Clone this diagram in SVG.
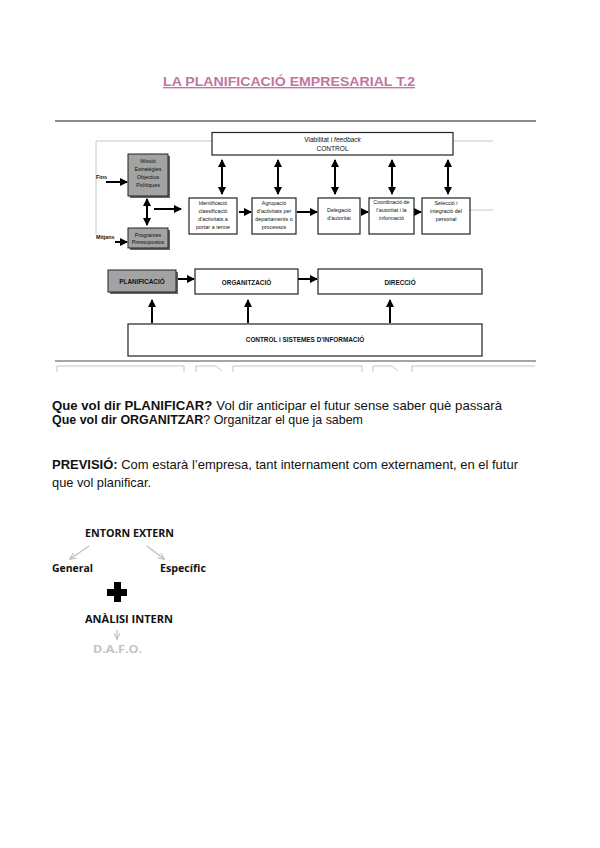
<svg xmlns="http://www.w3.org/2000/svg" width="600" height="848" viewBox="0 0 600 848">
<defs>
<marker id="ah" markerUnits="userSpaceOnUse" markerWidth="8" markerHeight="8" viewBox="0 0 8 8" refX="7" refY="4" orient="auto-start-reverse">
<path d="M0,0 L8,4 L0,8 Z" fill="#000"/>
</marker>
<marker id="ahg" markerUnits="userSpaceOnUse" markerWidth="7" markerHeight="7" viewBox="0 0 8 8" refX="7" refY="4" orient="auto">
<path d="M0,0.5 L7.5,4 L0,7.5" fill="none" stroke="#bdbdbd" stroke-width="1.2"/>
</marker>
</defs>
<style>
.box{fill:#fff;stroke:#222;stroke-width:1.2}
.gbox{fill:#a3a3a3;stroke:#222;stroke-width:1}
.shd{fill:#666}
.sm{font-family:"Liberation Sans",Arial,sans-serif;font-size:5.4px;fill:#111;text-anchor:middle}
.md{font-family:"Liberation Sans",Arial,sans-serif;font-size:6.6px;fill:#111;text-anchor:middle}
.lb{font-family:"Liberation Sans",Arial,sans-serif;font-size:6.4px;font-weight:bold;fill:#111;text-anchor:middle}
.arr{stroke:#000;stroke-width:2;fill:none;marker-end:url(#ah)}
.darr{stroke:#000;stroke-width:2;fill:none;marker-start:url(#ah);marker-end:url(#ah)}
.thin{stroke:#c8c8c8;stroke-width:1;fill:none}
.rule{stroke:#666;stroke-width:1.3}
.p{font-family:"Liberation Sans",Arial,sans-serif;font-size:13px;fill:#111}
.b{font-weight:bold}
.cal{font-family:"Open Sans","Liberation Sans",sans-serif;font-weight:bold;font-size:11px;fill:#111;text-anchor:middle}
</style>

<rect width="600" height="848" fill="#fff"/>

<!-- Title -->
<text x="289" y="86" text-anchor="middle" textLength="252" lengthAdjust="spacingAndGlyphs" font-family="Liberation Sans, Arial, sans-serif" font-size="13.5" font-weight="bold" fill="#c2759f" text-decoration="underline">LA PLANIFICACIÓ EMPRESARIAL T.2</text>

<!-- rules -->
<line class="rule" x1="55" y1="121" x2="536" y2="121"/>
<line x1="55" y1="361" x2="536" y2="361" stroke="#888" stroke-width="1.5"/>

<g id="cut-boxes" fill="none" stroke="#c4c4c4" stroke-width="1">
<path d="M57,372 V366 H184 V372"/>
<path d="M196,372 V366 H216 L222,371"/>
<path d="M233,372 V366 H362 V372"/>
<path d="M373,372 V366 H392 L398,371"/>
<path d="M412,372 V366 H535"/>
</g>

<!-- Connectors -->
<g id="connectors">
<polyline class="thin" points="212,141 96,141 96,234"/>
<line class="thin" x1="453" y1="141" x2="493" y2="141"/>
<line class="thin" x1="470" y1="210" x2="493" y2="210"/>
<line class="arr" x1="106" y1="182" x2="127" y2="182"/>
<line class="arr" x1="115" y1="242" x2="127" y2="242"/>
<line class="darr" x1="147" y1="199" x2="147" y2="225"/>
<line class="arr" x1="154" y1="209" x2="181" y2="209"/>
<line class="arr" x1="239" y1="212" x2="251" y2="212"/>
<line class="arr" x1="297" y1="212" x2="317" y2="212"/>
<line class="arr" x1="361" y1="212" x2="368" y2="212"/>
<line class="arr" x1="415" y1="212" x2="421" y2="212"/>
<line class="darr" x1="222" y1="160" x2="222" y2="194"/>
<line class="darr" x1="278" y1="160" x2="278" y2="194"/>
<line class="darr" x1="335" y1="160" x2="335" y2="194"/>
<line class="darr" x1="392" y1="160" x2="392" y2="194"/>
<line class="darr" x1="448" y1="160" x2="448" y2="194"/>
<line class="arr" x1="178" y1="279" x2="194" y2="279"/>
<line class="arr" x1="298" y1="279" x2="317" y2="279"/>
<line class="arr" x1="152" y1="323" x2="152" y2="300"/>
<line class="arr" x1="248" y1="323" x2="248" y2="300"/>
<line class="arr" x1="390" y1="323" x2="390" y2="300"/>
</g>

<!-- Nodes -->
<g id="control">
<rect class="box" x="212" y="132.5" width="241" height="22.5"/>
<text class="md" x="332.5" y="142">Viabilitat i <tspan font-style="italic">feedback</tspan></text>
<text class="md" x="332.5" y="151">CONTROL</text>
</g>
<g id="fins"><text x="96" y="179" font-family="Liberation Sans, Arial, sans-serif" font-size="5.4" font-weight="bold" fill="#111">Fins</text></g>
<g id="mitjans"><text x="96" y="239" font-family="Liberation Sans, Arial, sans-serif" font-size="5.4" font-weight="bold" fill="#111">Mitjans</text></g>
<g id="missio">
<rect class="shd" x="130" y="156" width="40" height="42"/>
<rect class="gbox" x="128" y="154" width="40" height="42"/>
<text class="sm" x="148" y="162.5">Missió</text>
<text class="sm" x="148" y="170.8">Estratègies</text>
<text class="sm" x="148" y="179">Objectius</text>
<text class="sm" x="148" y="187.3">Polítiques</text>
</g>
<g id="programes">
<rect class="shd" x="130" y="230" width="40" height="20"/>
<rect class="gbox" x="128" y="228" width="40" height="20"/>
<text class="sm" x="148" y="236.5">Programes</text>
<text class="sm" x="148" y="243.5">Pressupostos</text>
</g>
<g id="identificacio">
<rect class="box" x="189" y="198" width="48" height="36"/>
<text class="sm" x="213" y="205">Identificació</text>
<text class="sm" x="213" y="213">classificació</text>
<text class="sm" x="213" y="221">d’activitats a</text>
<text class="sm" x="213" y="229">portar a terme</text>
</g>
<g id="agrupacio">
<rect class="box" x="252" y="198" width="44" height="36"/>
<text class="sm" x="274" y="205">Agrupació</text>
<text class="sm" x="274" y="213">d’activitats per</text>
<text class="sm" x="274" y="221">departaments o</text>
<text class="sm" x="274" y="229">processos</text>
</g>
<g id="delegacio">
<rect class="box" x="318" y="198" width="42" height="36"/>
<text class="sm" x="339" y="212">Delegació</text>
<text class="sm" x="339" y="220">d’autoritat</text>
</g>
<g id="coordinacio">
<rect class="box" x="369" y="198" width="45" height="36"/>
<text class="sm" x="391.5" y="204">Coordinació de</text>
<text class="sm" x="391.5" y="212">l’autoritat i la</text>
<text class="sm" x="391.5" y="220">informació</text>
</g>
<g id="seleccio">
<rect class="box" x="422" y="198" width="48" height="36"/>
<text class="sm" x="446" y="205">Selecció i</text>
<text class="sm" x="446" y="213">integració del</text>
<text class="sm" x="446" y="221">personal</text>
</g>
<g id="planificacio">
<rect class="shd" x="110" y="272" width="68" height="22"/>
<rect class="gbox" x="108" y="270" width="68" height="22"/>
<text class="lb" x="142" y="283.5">PLANIFICACIÓ</text>
</g>
<g id="organitzacio">
<rect class="box" x="195" y="269" width="103" height="25"/>
<text class="lb" x="246.5" y="285">ORGANITZACIÓ</text>
</g>
<g id="direccio">
<rect class="box" x="318" y="269" width="164" height="25"/>
<text class="lb" x="400" y="285">DIRECCIÓ</text>
</g>
<g id="control-sistemes">
<rect class="box" x="128" y="324" width="354" height="32"/>
<text class="lb" x="305" y="342">CONTROL i SISTEMES D’INFORMACIÓ</text>
</g>

<!-- Paragraph text -->
<text class="p" x="52" y="410" textLength="450" lengthAdjust="spacingAndGlyphs"><tspan class="b">Que vol dir PLANIFICAR?</tspan><tspan dx="4">Vol dir anticipar el futur sense saber què passarà</tspan></text>
<text class="p" x="52" y="424" textLength="311" lengthAdjust="spacingAndGlyphs"><tspan class="b">Que vol dir ORGANITZAR</tspan>? Organitzar el que ja sabem</text>
<text class="p" x="52" y="469" textLength="466" lengthAdjust="spacingAndGlyphs"><tspan class="b">PREVISIÓ:</tspan> Com estarà l’empresa, tant internament com externament, en el futur</text>
<text class="p" x="52" y="487" textLength="99" lengthAdjust="spacingAndGlyphs">que vol planificar.</text>

<!-- Lower scheme -->
<g id="entorn-extern"><text class="cal" x="129.5" y="537" textLength="89" lengthAdjust="spacingAndGlyphs">ENTORN EXTERN</text></g>
<g id="general"><text class="cal" x="72.5" y="572" textLength="41" lengthAdjust="spacingAndGlyphs">General</text></g>
<g id="especific"><text class="cal" x="183" y="572" textLength="46" lengthAdjust="spacingAndGlyphs">Específic</text></g>
<g id="scheme-arrows">
<line x1="89" y1="546" x2="70" y2="559" stroke="#bdbdbd" stroke-width="1.2" marker-end="url(#ahg)"/>
<line x1="147" y1="546" x2="164" y2="559" stroke="#bdbdbd" stroke-width="1.2" marker-end="url(#ahg)"/>
<line x1="117" y1="630" x2="117" y2="639" stroke="#bdbdbd" stroke-width="1.2" marker-end="url(#ahg)"/>
</g>
<g id="plus"><path d="M114,582 H121 V589 H127 V596 H121 V602 H114 V596 H107 V589 H114 Z" fill="#000"/></g>
<g id="analisi-intern"><text class="cal" x="129" y="623" textLength="88" lengthAdjust="spacingAndGlyphs">ANÀLISI INTERN</text></g>
<g id="dafo"><text class="cal" x="117.5" y="653" style="fill:#c4c4c4" textLength="49" lengthAdjust="spacingAndGlyphs">D.A.F.O.</text></g>
</svg>
